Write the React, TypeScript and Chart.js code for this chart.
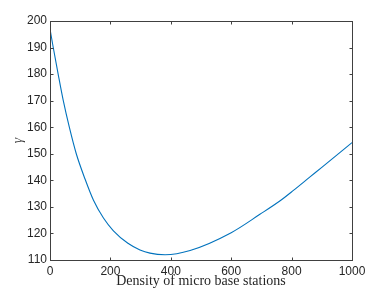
import React, { useEffect, useRef } from "react";
import { Chart, registerables } from "chart.js";

Chart.register(...registerables);

const densities = [0, 10, 27, 44, 64, 87, 116, 144, 177, 210, 258, 298, 331, 381, 464, 600, 695, 762, 806, 861, 900, 1000];
const gammaValues = [197, 190.5, 180, 170, 160, 150, 140.5, 132.5, 125.8, 121.0, 116.3, 113.8, 112.6, 112.0, 113.6, 120.3, 127.2, 132.3, 136.2, 141.3, 144.9, 154.2];
const xTickValues = [0, 200, 400, 600, 800, 1000];
const yTickValues = [110, 120, 130, 140, 150, 160, 170, 180, 190, 200];

const boxPlugin = {
  id: "matlabBox",
  afterDraw(chart: any) {
    const { ctx, chartArea } = chart;
    const xs = chart.scales.x;
    const ys = chart.scales.y;
    const l = Math.round(chartArea.left) + 0.5;
    const r = Math.round(chartArea.right) + 0.5;
    const t = Math.round(chartArea.top) + 0.5;
    const b = Math.round(chartArea.bottom) + 0.5;
    const len = 3;
    ctx.save();
    ctx.strokeStyle = "#404040";
    ctx.lineWidth = 1;
    ctx.strokeRect(l, t, r - l, b - t);
    ctx.beginPath();
    xTickValues.forEach((v) => {
      const px = Math.round(xs.getPixelForValue(v)) + 0.5;
      ctx.moveTo(px, b);
      ctx.lineTo(px, b - len);
      ctx.moveTo(px, t);
      ctx.lineTo(px, t + len);
    });
    yTickValues.forEach((v) => {
      const py = Math.round(ys.getPixelForValue(v)) + 0.5;
      ctx.moveTo(l, py);
      ctx.lineTo(l + len, py);
      ctx.moveTo(r, py);
      ctx.lineTo(r - len, py);
    });
    ctx.stroke();
    ctx.restore();
  },
};

export default function App() {
  const ref = useRef<HTMLCanvasElement | null>(null);
  useEffect(() => {
    if (!ref.current) return;
    const chart = new Chart(ref.current, {
      type: "line",
      data: {
        datasets: [
          {
            data: densities.map((d, i) => ({ x: d, y: gammaValues[i] })),
            borderColor: "#0072BD",
            borderWidth: 1.1,
            pointRadius: 0,
            cubicInterpolationMode: "monotone",
            fill: false,
          },
        ],
      },
      options: {
        animation: false,
        responsive: false,
        events: [],
        layout: { padding: { left: 0, right: 37, top: 21, bottom: 0 } },
        plugins: { legend: { display: false }, tooltip: { enabled: false } },
        scales: {
          x: {
            type: "linear",
            min: 0,
            max: 1000,
            afterBuildTicks: (s: any) => {
              s.ticks = xTickValues.map((v) => ({ value: v }));
            },
            afterFit: (s: any) => {
              s.height = 32;
            },
            grid: { display: false, drawTicks: false },
            border: { display: false },
            ticks: {
              padding: 4,
              maxRotation: 0,
              autoSkip: false,
              color: "#262626",
              font: { family: "Liberation Sans", size: 12 },
              callback: (v: any) => String(v),
            },
            title: {
              display: true,
              text: "Density of micro base stations",
              color: "#262626",
              font: { family: "Liberation Serif", size: 14 },
              padding: { top: 0, bottom: 2 },
            },
          },
          y: {
            type: "linear",
            min: 110,
            max: 200,
            afterBuildTicks: (s: any) => {
              s.ticks = yTickValues.map((v) => ({ value: v }));
            },
            afterFit: (s: any) => {
              s.width = 50;
            },
            grid: { display: false, drawTicks: false },
            border: { display: false },
            ticks: {
              padding: 3,
              autoSkip: false,
              color: "#262626",
              font: { family: "Liberation Sans", size: 12 },
              callback: (v: any) => String(v),
            },
            title: {
              display: true,
              text: "γ",
              color: "#404040",
              font: { family: "Liberation Serif", size: 14, style: "italic" },
              padding: { top: 10, bottom: 0 },
            },
          },
        },
      },
      plugins: [boxPlugin],
    });
    return () => chart.destroy();
  }, []);
  return (
    <div style={{ position: "fixed", left: 0, top: 0, width: 389, height: 292, background: "#fff" }}>
      <canvas ref={ref} width={389} height={292} style={{ width: 389, height: 292, display: "block" }} />
    </div>
  );
}
